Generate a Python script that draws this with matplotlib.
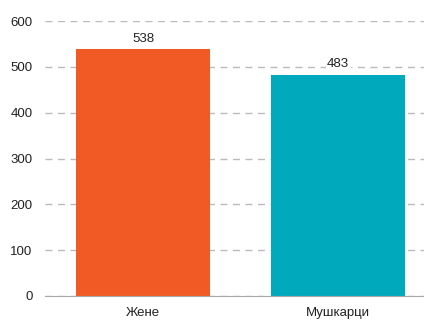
import matplotlib.pyplot as plt

categories = ["Жене", "Мушкарци"]
values = [538, 483]
colors = ["#F15A24", "#00AABD"]
yticks = [0, 100, 200, 300, 400, 500, 600]

plt.rcParams['font.family'] = ['Liberation Sans', 'DejaVu Sans']

fig = plt.figure(figsize=(4.24, 3.2), dpi=100)
ax = fig.add_axes([45/424, 24/320, 379/424, 275/320])

x = list(range(len(categories)))
bars = ax.bar(x, values, width=0.687, color=colors, zorder=3)
for xi, v in zip(x, values):
    ax.text(xi, v + 10, str(v), ha='center', va='bottom', fontsize=9.5, color='#222222',
            bbox=dict(facecolor='white', edgecolor='none', pad=1), zorder=4)

ax.set_xlim(-0.503, 1.441)
ax.set_ylim(0, 600)
ax.set_yticks(yticks)
ax.set_xticks(x)
ax.set_xticklabels(categories, fontsize=9.5, color='#222222')
ax.tick_params(axis='y', length=0, pad=9, labelsize=9.5, labelcolor='#222222')
ax.tick_params(axis='x', length=0, pad=8)
ax.yaxis.grid(True, linestyle=(0, (5, 4)), color='#BBBBBB', linewidth=1, zorder=0)
for s in ['top', 'right', 'left']:
    ax.spines[s].set_visible(False)
ax.spines['bottom'].set_color('#AAAAAA')
ax.spines['bottom'].set_zorder(5)

fig.savefig('out.png', dpi=100)
